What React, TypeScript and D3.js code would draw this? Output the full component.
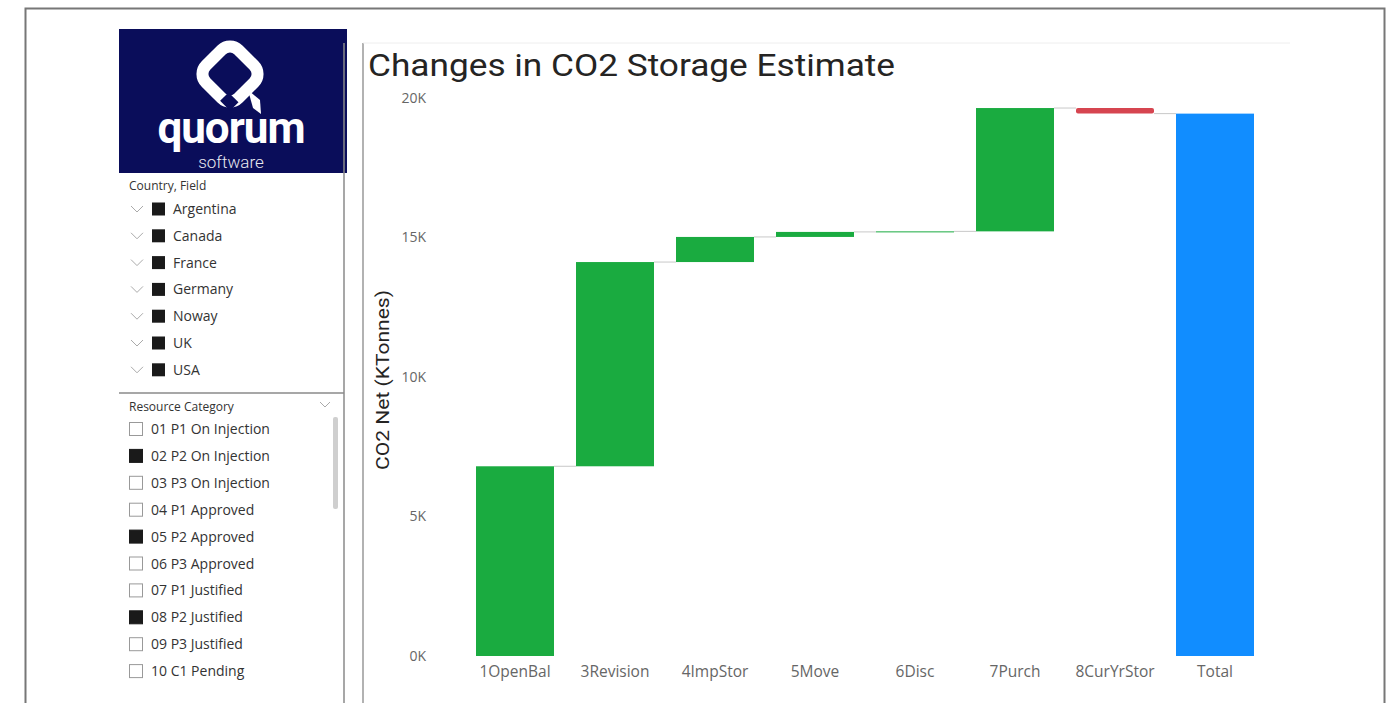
import React, { useEffect, useRef } from "react";
import * as d3 from "d3";

// waterfall data (KTonnes * 1000)
const categories = ["1OpenBal", "3Revision", "4ImpStor", "5Move", "6Disc", "7Purch", "8CurYrStor", "Total"];
const changes = [6800, 7320, 900, 180, 20, 4420, -200];
const yTicks = [0, 5000, 10000, 15000, 20000];

// slicers
const countries = ["Argentina", "Canada", "France", "Germany", "Noway", "UK", "USA"];
const resourceCategories = [
  "01 P1 On Injection",
  "02 P2 On Injection",
  "03 P3 On Injection",
  "04 P1 Approved",
  "05 P2 Approved",
  "06 P3 Approved",
  "07 P1 Justified",
  "08 P2 Justified",
  "09 P3 Justified",
  "10 C1 Pending",
];
const selectedResources = ["02 P2 On Injection", "05 P2 Approved", "08 P2 Justified"];

const W = 1400,
  H = 703;
const uiFont = "'Open Sans', 'Noto Sans', sans-serif";
const dinFont = "Roboto, 'DejaVu Sans', sans-serif";

const App = () => {
  const ref = useRef<SVGSVGElement>(null);

  useEffect(() => {
    const svg = d3.select(ref.current);
    svg.selectAll("*").remove();

    // page frame
    svg
      .append("rect")
      .attr("x", 25.5)
      .attr("y", 8.5)
      .attr("width", 1359)
      .attr("height", 720)
      .attr("fill", "#fff")
      .attr("stroke", "#777")
      .attr("stroke-width", 2);

    // ---- logo ----
    svg.append("rect").attr("x", 119).attr("y", 29).attr("width", 228).attr("height", 144).attr("fill", "#0a0d5a");
    const logo = svg.append("g").attr("transform", "translate(230,74)");
    logo
      .append("rect")
      .attr("x", -23)
      .attr("y", -23)
      .attr("width", 46)
      .attr("height", 46)
      .attr("rx", 12)
      .attr("transform", "rotate(45)")
      .attr("fill", "none")
      .attr("stroke", "#fff")
      .attr("stroke-width", 12);
    // tail of the Q
    logo.append("rect").attr("x", 12).attr("y", 14).attr("width", 14).attr("height", 12).attr("fill", "#0a0d5a").attr("transform", "rotate(45)");
    logo.append("path").attr("d", "M18,16 L30,26 L31,40 L23,34 Z").attr("fill", "#fff");
    svg
      .append("text")
      .attr("x", 231)
      .attr("y", 143)
      .attr("text-anchor", "middle")
      .attr("fill", "#fff")
      .style("font-family", "Roboto, sans-serif")
      .style("font-weight", 700)
      .style("font-size", "44px")
      .style("letter-spacing", "-1px")
      .text("quorum");
    svg
      .append("text")
      .attr("x", 231)
      .attr("y", 168)
      .attr("text-anchor", "middle")
      .attr("fill", "#e8e8f0")
      .style("font-family", "Roboto, sans-serif")
      .style("font-weight", 300)
      .style("font-size", "17px")
      .text("software");

    // panel borders
    svg.append("line").attr("x1", 344).attr("x2", 344).attr("y1", 43).attr("y2", 703).attr("stroke", "#8a8a8a").attr("stroke-width", 1.5);
    svg.append("line").attr("x1", 119).attr("x2", 344).attr("y1", 393).attr("y2", 393).attr("stroke", "#8a8a8a").attr("stroke-width", 1.5);
    svg.append("line").attr("x1", 363).attr("x2", 363).attr("y1", 43).attr("y2", 703).attr("stroke", "#999").attr("stroke-width", 1.5);
    svg.append("line").attr("x1", 363).attr("x2", 1290).attr("y1", 43).attr("y2", 43).attr("stroke", "#eee");

    // ---- country slicer ----
    svg
      .append("text")
      .attr("x", 129)
      .attr("y", 190)
      .attr("fill", "#333")
      .style("font-family", uiFont)
      .style("font-size", "12px")
      .text("Country, Field");
    const cRow = svg
      .selectAll("g.country")
      .data(countries)
      .enter()
      .append("g")
      .attr("class", "country")
      .attr("transform", (d, i) => `translate(0,${209 + i * 26.8})`);
    cRow
      .append("path")
      .attr("d", "M131,-3 L137,3 L143,-3")
      .attr("fill", "none")
      .attr("stroke", "#aaa")
      .attr("stroke-width", 1);
    cRow.append("rect").attr("x", 152).attr("y", -6.5).attr("width", 13).attr("height", 13).attr("fill", "#1a1a1a");
    cRow
      .append("text")
      .attr("x", 173)
      .attr("y", 5)
      .attr("fill", "#333")
      .style("font-family", uiFont)
      .style("font-size", "14px")
      .text((d) => d);

    // ---- resource slicer ----
    svg
      .append("text")
      .attr("x", 129)
      .attr("y", 411)
      .attr("fill", "#333")
      .style("font-family", uiFont)
      .style("font-size", "12px")
      .text("Resource Category");
    svg.append("path").attr("d", "M320,402 L325,407 L330,402").attr("fill", "none").attr("stroke", "#aaa");
    svg.append("rect").attr("x", 333).attr("y", 417).attr("width", 5).attr("height", 92).attr("rx", 2).attr("fill", "#cfcfcf");
    const rRow = svg
      .selectAll("g.res")
      .data(resourceCategories)
      .enter()
      .append("g")
      .attr("class", "res")
      .attr("transform", (d, i) => `translate(0,${429 + i * 26.9})`);
    rRow
      .append("rect")
      .attr("x", 129.5)
      .attr("y", -6.5)
      .attr("width", 13)
      .attr("height", 13)
      .attr("fill", (d) => (selectedResources.includes(d) ? "#1a1a1a" : "#fff"))
      .attr("stroke", (d) => (selectedResources.includes(d) ? "#1a1a1a" : "#999"));
    rRow
      .append("text")
      .attr("x", 151)
      .attr("y", 5)
      .attr("fill", "#333")
      .style("font-family", uiFont)
      .style("font-size", "14px")
      .text((d) => d);

    // ---- waterfall chart ----
    svg
      .append("text")
      .attr("x", 368)
      .attr("y", 76)
      .attr("fill", "#252423")
      .attr("textLength", 527)
      .attr("lengthAdjust", "spacingAndGlyphs")
      .style("font-family", dinFont)
      .style("font-size", "32px")
      .text("Changes in CO2 Storage Estimate");

    const x = d3.scaleBand<string>().domain(categories).range([465, 1265]).paddingInner(0.22).paddingOuter(0.11);
    const y = d3.scaleLinear().domain([0, 20000]).range([656, 98]);

    let run = 0;
    const steps = changes.map((v, i) => {
      const start = run;
      run += v;
      return { name: categories[i], start, end: run, kind: v >= 0 ? "up" : "down" };
    });
    steps.push({ name: "Total", start: 0, end: run, kind: "total" });
    const colors: any = { up: "#1aab40", down: "#d64550", total: "#118dff" };

    // y ticks
    svg
      .selectAll("text.ytick")
      .data(yTicks)
      .enter()
      .append("text")
      .attr("class", "ytick")
      .attr("x", 426)
      .attr("y", (d) => y(d))
      .attr("dy", "0.35em")
      .attr("text-anchor", "end")
      .attr("fill", "#666")
      .style("font-family", uiFont)
      .style("font-size", "14px")
      .text((d) => d / 1000 + "K");

    svg
      .append("text")
      .attr("transform", "translate(389,380) rotate(-90)")
      .attr("text-anchor", "middle")
      .attr("fill", "#252423")
      .attr("textLength", 180)
      .attr("lengthAdjust", "spacingAndGlyphs")
      .style("font-family", dinFont)
      .style("font-size", "18px")
      .text("CO2 Net (KTonnes)");

    // connectors
    svg
      .selectAll("line.conn")
      .data(steps.slice(0, -1))
      .enter()
      .append("line")
      .attr("class", "conn")
      .attr("x1", (d) => x(d.name)! + x.bandwidth())
      .attr("x2", (d, i) => x(steps[i + 1].name)!)
      .attr("y1", (d) => y(d.end))
      .attr("y2", (d) => y(d.end))
      .attr("stroke", "#c8c8c8")
      .attr("stroke-width", 1);

    svg
      .selectAll("rect.bar")
      .data(steps)
      .enter()
      .append("rect")
      .attr("class", "bar")
      .attr("x", (d) => x(d.name)!)
      .attr("width", x.bandwidth())
      .attr("y", (d) => y(Math.max(d.start, d.end)))
      .attr("height", (d) => Math.max(1, Math.abs(y(d.start) - y(d.end))))
      .attr("rx", (d) => (d.kind === "down" ? 2 : 0))
      .attr("fill", (d) => colors[d.kind]);

    svg
      .selectAll("text.xtick")
      .data(categories)
      .enter()
      .append("text")
      .attr("class", "xtick")
      .attr("x", (d) => x(d)! + x.bandwidth() / 2)
      .attr("y", 677)
      .attr("text-anchor", "middle")
      .attr("fill", "#666")
      .style("font-family", uiFont)
      .style("font-size", "15.5px")
      .text((d) => d);
  }, []);

  return (
    <svg
      ref={ref}
      width={W}
      height={H}
      style={{ position: "absolute", left: 0, top: 0, display: "block", background: "#fff" }}
    />
  );
};

export default App;
